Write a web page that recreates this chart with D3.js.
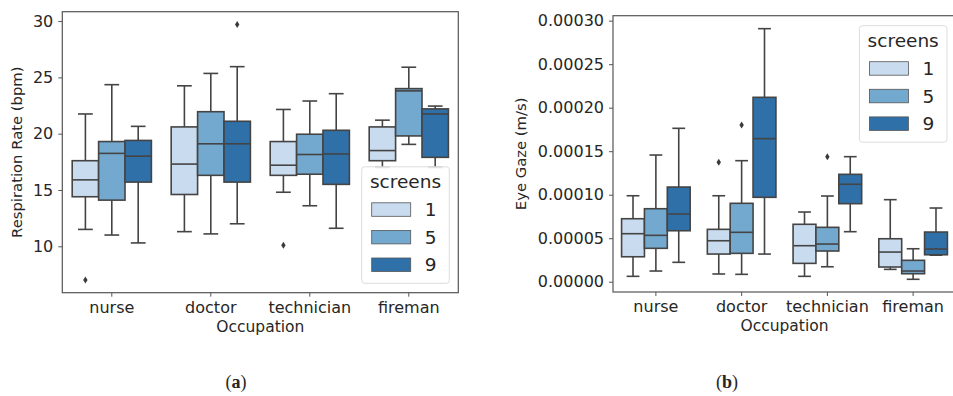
<!DOCTYPE html>
<html>
<head>
<meta charset="utf-8">
<script src="https://cdn.jsdelivr.net/npm/d3@7"></script>
<style>
  body { margin: 0; background: #fff; }
  text { font-family: "DejaVu Sans", sans-serif; fill: #262626; }
</style>
</head>
<body>
<div id="chart"></div>
<script>
// categories and groups
var occupations = ["nurse", "doctor", "technician", "fireman"];
var screens = ["1", "5", "9"];
var screenColors = ["#c9dbee", "#74a9cf", "#2f70a8"];

// (a) respiration rate - one row per occupation, one value per screens group
var respLow    = [[11.5, 11.0, 10.3], [11.3, 11.1, 12.0], [14.8, 13.6, 11.6], [17.0, 19.05, 17.0]];
var respQ1     = [[14.4, 14.1, 15.7], [14.6, 16.3, 15.7], [16.3, 16.4, 15.5], [17.6, 19.8, 17.9]];
var respMedian = [[15.9, 18.25, 18.0], [17.3, 19.1, 19.1], [17.2, 18.15, 18.2], [18.5, 23.8, 21.75]];
var respQ3     = [[17.6, 19.3, 19.4], [20.6, 21.95, 21.1], [19.3, 19.95, 20.3], [20.6, 24.0, 22.2]];
var respHigh   = [[21.75, 24.35, 20.65], [24.25, 25.35, 25.95], [22.15, 22.9, 23.55], [21.2, 25.9, 22.45]];
var respOutliers = [["nurse", "1", 7.0], ["doctor", "9", 29.7], ["technician", "1", 10.1]];
var respTicks = [10, 15, 20, 25, 30];

// (b) eye gaze
var gazeLow    = [[0.0000062, 0.0000123, 0.0000223], [0.0000089, 0.0000085, 0.0000318], [0.0000062, 0.0000172, 0.0000575], [0.0000142, 0.0000028, 0.0000305]];
var gazeQ1     = [[0.0000287, 0.0000384, 0.0000586], [0.0000318, 0.0000326, 0.0000970], [0.0000211, 0.0000353, 0.0000897], [0.0000169, 0.0000092, 0.0000310]];
var gazeMedian = [[0.0000552, 0.0000533, 0.0000778], [0.0000471, 0.0000568, 0.0001644], [0.0000414, 0.0000433, 0.0001120], [0.0000341, 0.0000123, 0.0000376]];
var gazeQ3     = [[0.0000724, 0.0000839, 0.0001088], [0.0000602, 0.0000901, 0.0002119], [0.0000660, 0.0000625, 0.0001234], [0.0000494, 0.0000246, 0.0000571]];
var gazeHigh   = [[0.0000988, 0.0001456, 0.0001763], [0.0000988, 0.0001391, 0.0002908], [0.0000801, 0.0000985, 0.0001437], [0.0000943, 0.0000379, 0.0000847]];
var gazeOutliers = [["doctor", "1", 0.0001372], ["doctor", "5", 0.0001801], ["technician", "5", 0.0001437]];
var gazeTicks = [0, 0.00005, 0.0001, 0.00015, 0.0002, 0.00025, 0.0003];

var lineColor = "#444";

var svg = d3.select("#chart")
    .append("svg")
    .attr("width", 953)
    .attr("height", 396);

// build box records from the stat arrays
function makeBoxes(lo, q1, med, q3, hi) {
    var out = [];
    occupations.forEach(function (o, i) {
        screens.forEach(function (s, j) {
            out.push({occ: o, screen: s, idx: j, lo: lo[i][j], q1: q1[i][j], med: med[i][j], q3: q3[i][j], hi: hi[i][j]});
        });
    });
    return out;
}

function drawPanel(cfg) {
    var g = svg.append("g")
        .attr("transform", "translate(" + cfg.left + "," + cfg.top + ")");
    var width = cfg.right - cfg.left,
        height = cfg.bottom - cfg.top;

    var x0 = d3.scaleBand().domain(occupations).range([0, width]);
    var x1 = d3.scaleBand().domain(screens).range([x0.bandwidth() * 0.1, x0.bandwidth() * 0.9]);
    var y = d3.scaleLinear().domain(cfg.domain).range([height, 0]);

    // axes
    var xAxis = g.append("g")
        .attr("transform", "translate(0," + height + ")")
        .call(d3.axisBottom(x0).tickSize(4).tickPadding(5));
    var yAxis = g.append("g")
        .call(d3.axisLeft(y).tickValues(cfg.ticks).tickFormat(cfg.format).tickSize(4).tickPadding(5));
    [xAxis, yAxis].forEach(function (a) {
        a.select(".domain").remove();
        a.selectAll(".tick line").attr("stroke", "#555").attr("stroke-width", 1);
        a.selectAll("text").style("font-size", "16px").style("font-family", "DejaVu Sans").attr("fill", "#262626");
    });

    var boxW = x1.bandwidth();
    var boxes = g.selectAll(".box")
        .data(cfg.boxes)
        .enter()
        .append("g")
        .attr("transform", function (d) { return "translate(" + (x0(d.occ) + x1(d.screen)) + ",0)"; });

    // whiskers
    boxes.append("line")
        .attr("x1", boxW / 2).attr("x2", boxW / 2)
        .attr("y1", function (d) { return y(d.hi); })
        .attr("y2", function (d) { return y(d.q3); })
        .attr("stroke", lineColor).attr("stroke-width", 1.6);
    boxes.append("line")
        .attr("x1", boxW / 2).attr("x2", boxW / 2)
        .attr("y1", function (d) { return y(d.q1); })
        .attr("y2", function (d) { return y(d.lo); })
        .attr("stroke", lineColor).attr("stroke-width", 1.6);
    ["hi", "lo"].forEach(function (k) {
        boxes.append("line")
            .attr("x1", boxW * 0.22).attr("x2", boxW * 0.78)
            .attr("y1", function (d) { return y(d[k]); })
            .attr("y2", function (d) { return y(d[k]); })
            .attr("stroke", lineColor).attr("stroke-width", 1.6);
    });
    // box
    boxes.append("rect")
        .attr("x", 0)
        .attr("width", boxW)
        .attr("y", function (d) { return y(d.q3); })
        .attr("height", function (d) { return y(d.q1) - y(d.q3); })
        .attr("fill", function (d) { return screenColors[d.idx]; })
        .attr("stroke", lineColor).attr("stroke-width", 1.6);
    // median
    boxes.append("line")
        .attr("x1", 0).attr("x2", boxW)
        .attr("y1", function (d) { return y(d.med); })
        .attr("y2", function (d) { return y(d.med); })
        .attr("stroke", lineColor).attr("stroke-width", 1.6);

    // outliers (thin diamonds)
    g.selectAll(".outlier")
        .data(cfg.outliers)
        .enter()
        .append("path")
        .attr("d", "M0,-3.5L2.2,0L0,3.5L-2.2,0Z")
        .attr("transform", function (d) {
            return "translate(" + (x0(d[0]) + x1(d[1]) + boxW / 2) + "," + y(d[2]) + ")";
        })
        .attr("fill", "#3a3a3a");

    // frame
    g.append("rect")
        .attr("width", width).attr("height", height)
        .attr("fill", "none").attr("stroke", "#555").attr("stroke-width", 1.2);

    // axis titles
    g.append("text")
        .attr("x", width / 2).attr("y", height + 39)
        .attr("text-anchor", "middle")
        .style("font-size", "15.5px")
        .text("Occupation");
    g.append("text")
        .attr("transform", "translate(" + cfg.ylabelX + "," + height / 2 + ") rotate(-90)")
        .attr("text-anchor", "middle")
        .style("font-size", "14.8px")
        .text(cfg.ylabel);

    // legend
    var lw = 87.6, lh = 116.5;
    var lx = width - 9 - lw;
    var ly = cfg.legendTop ? 10 : height - 9.4 - lh;
    var leg = g.append("g").attr("transform", "translate(" + lx + "," + ly + ")");
    leg.append("rect")
        .attr("width", lw).attr("height", lh).attr("rx", 3)
        .attr("fill", "#fff").attr("fill-opacity", 0.85)
        .attr("stroke", "#ddd").attr("stroke-width", 1);
    leg.append("text")
        .attr("x", lw / 2).attr("y", 21.5)
        .attr("text-anchor", "middle")
        .style("font-size", "18.5px")
        .text("screens");
    screens.forEach(function (s, i) {
        leg.append("rect")
            .attr("x", 10).attr("y", 36 + i * 27.6)
            .attr("width", 39).attr("height", 13.5)
            .attr("fill", screenColors[i])
            .attr("stroke", "#555").attr("stroke-width", 0.8);
        leg.append("text")
            .attr("x", 63).attr("y", 49.5 + i * 27.6)
            .style("font-size", "18.5px")
            .text(s);
    });

    // caption
    var cap = svg.append("text")
        .attr("x", cfg.capX).attr("y", 388)
        .attr("text-anchor", "middle")
        .style("font-family", "Liberation Serif, DejaVu Serif, serif")
        .style("font-size", "18px")
        .attr("fill", "#000");
    cap.append("tspan").text("(");
    cap.append("tspan").style("font-weight", "bold").text(cfg.cap);
    cap.append("tspan").text(")");
}

drawPanel({
    left: 62.3, top: 11.7, right: 458.3, bottom: 292.7,
    domain: [5.88, 30.83],
    ticks: respTicks,
    format: d3.format("d"),
    boxes: makeBoxes(respLow, respQ1, respMedian, respQ3, respHigh),
    outliers: respOutliers,
    ylabel: "Respiration Rate (bpm)",
    ylabelX: -40,
    legendTop: false,
    cap: "a", capX: 236
});

drawPanel({
    left: 613, top: 15.7, right: 956, bottom: 292,
    domain: [-0.0000118, 0.0003057],
    ticks: gazeTicks,
    format: d3.format(".5f"),
    boxes: makeBoxes(gazeLow, gazeQ1, gazeMedian, gazeQ3, gazeHigh),
    outliers: gazeOutliers,
    ylabel: "Eye Gaze (m/s)",
    ylabelX: -87,
    legendTop: true,
    cap: "b", capX: 727
});
</script>
</body>
</html>
